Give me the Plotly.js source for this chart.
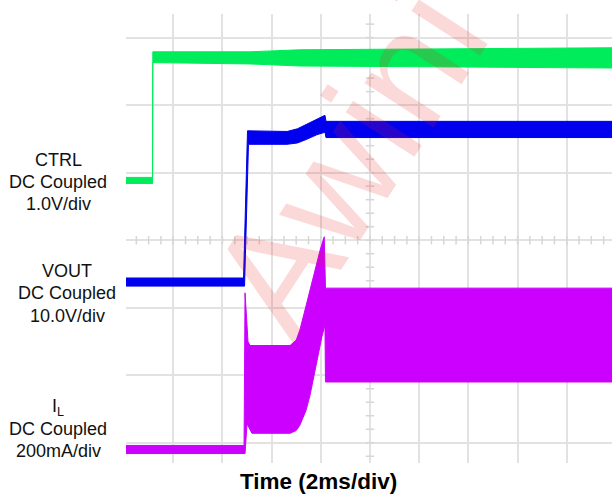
<!DOCTYPE html>
<html>
<head>
<meta charset="utf-8">
<script src="https://cdn.plot.ly/plotly-3.0.1.min.js"></script>
<style>
  html, body { margin: 0; padding: 0; background: #ffffff; }
  #chart { width: 612px; height: 498px; }
</style>
</head>
<body>
<div id="chart"></div>
<script>
// Time in ms (2 ms/div), vertical values in screen divisions
const ctrlUpperT = [0.08, 1.16, 1.17, 5.12, 7.15, 19.84];
const ctrlUpper  = [0.93, 0.93, 2.79, 2.79, 2.82, 2.85];
const ctrlLowerT = [0.08, 1.16, 1.17, 5.12, 7.15, 19.84];
const ctrlLower  = [0.84, 0.84, 2.63, 2.61, 2.58, 2.55];

const voutUpperT = [0.08, 4.86, 5.02, 6.63, 7.05, 7.40, 7.83, 8.17, 8.21, 19.84];
const voutUpper  = [-0.56, -0.56, 1.62, 1.61, 1.65, 1.71, 1.78, 1.85, 1.76, 1.76];
const voutLowerT = [0.08, 4.90, 5.06, 6.63, 7.05, 7.40, 7.83, 8.17, 8.21, 19.84];
const voutLower  = [-0.68, -0.68, 1.42, 1.42, 1.44, 1.49, 1.56, 1.60, 1.52, 1.52];

const ilUpperT = [0.08, 4.88, 4.92, 5.04, 5.12, 6.75, 7.00, 7.15, 7.43, 7.68, 7.97, 8.14, 8.19, 19.84];
const ilUpper  = [-3.04, -3.04, -0.78, -1.50, -1.56, -1.56, -1.48, -1.33, -0.93, -0.55, -0.15, 0.05, -0.71, -0.71];
const ilLowerT = [0.08, 4.92, 5.00, 5.20, 6.75, 7.00, 7.15, 7.40, 7.56, 7.83, 8.05, 8.17, 8.19, 19.84];
const ilLower  = [-3.16, -3.16, -2.72, -2.86, -2.86, -2.82, -2.74, -2.52, -2.30, -1.80, -1.42, -1.26, -2.10, -2.10];

const ctrlLabels = ["CTRL", "DC Coupled", "1.0V/div"];
const voutLabels = ["VOUT", "DC Coupled", "10.0V/div"];
const ilLabels   = ["I<sub>L</sub>", "DC Coupled", "200mA/div"];
const xTitle = "Time (2ms/div)";
const watermark = "Awini";

function band(ut, u, lt, l, color) {
  const x = ut.concat(lt.slice().reverse());
  const y = u.concat(l.slice().reverse());
  return {
    x: x, y: y, type: 'scatter', mode: 'lines', fill: 'toself',
    fillcolor: color, line: {color: color, width: 1},
    hoverinfo: 'skip', showlegend: false
  };
}

// graticule minor ticks on centre lines
const hx = [], hy = [];
for (let k = 1; k < 40; k++) { hx.push(k * 0.5); hy.push(0); }
const vx = [], vy = [];
for (let k = -16; k <= 16; k++) { vx.push(10); vy.push(k * 0.2); }

const tickColor = '#d6d6d6';
const traces = [
  {x: hx, y: hy, type: 'scatter', mode: 'markers', hoverinfo: 'skip', showlegend: false,
   marker: {symbol: 'line-ns', size: 6, line: {color: tickColor, width: 1.5}}},
  {x: vx, y: vy, type: 'scatter', mode: 'markers', hoverinfo: 'skip', showlegend: false,
   marker: {symbol: 'line-ew', size: 6, line: {color: tickColor, width: 1.5}}},
  band(ctrlUpperT, ctrlUpper, ctrlLowerT, ctrlLower, '#00ec5a'),
  band(voutUpperT, voutUpper, voutLowerT, voutLower, '#0000ee'),
  band(ilUpperT, ilUpper, ilLowerT, ilLower, '#cc00ff')
];

// plot area in pixels: x 126..612, y 14..463
const L = 126, R = 612, T = 14, B = 463;
function px(x) { return (x - L) / (R - L); }
function py(y) { return (B - y) / (B - T); }

const font = 'Liberation Sans, Arial, sans-serif';
const annotations = [];
function addLabels(lines, cx, ys) {
  lines.forEach((t, i) => annotations.push({
    text: t, xref: 'paper', yref: 'paper', x: px(cx), y: py(ys[i]),
    xanchor: 'center', yanchor: 'middle', showarrow: false,
    font: {family: font, size: 18, color: '#111111'}
  }));
}
addLabels(ctrlLabels, 58, [160, 182, 204]);
addLabels(voutLabels, 67, [271, 293, 316]);
addLabels(ilLabels, 58, [407, 429, 451]);

annotations.push({
  text: '<b>' + xTitle + '</b>', xref: 'paper', yref: 'paper',
  x: px(318), y: py(481), xanchor: 'center', yanchor: 'middle', showarrow: false,
  font: {family: font, size: 22.5, color: '#000000'}
});
annotations.push({
  text: watermark, xref: 'paper', yref: 'paper',
  x: px(348), y: py(160), xanchor: 'center', yanchor: 'middle', showarrow: false,
  textangle: -57,
  font: {family: font, size: 155, color: 'rgba(240,30,30,0.17)'}
});

const layout = {
  width: 612, height: 498,
  margin: {l: L, r: 612 - R, t: T, b: 498 - B, pad: 0},
  paper_bgcolor: '#ffffff', plot_bgcolor: '#ffffff',
  showlegend: false,
  xaxis: {range: [0.08, 19.84], tick0: 0, dtick: 2, showgrid: true, gridcolor: '#e2e2e2', gridwidth: 2,
          zeroline: false, showline: false, showticklabels: false, ticks: '', fixedrange: true},
  yaxis: {range: [-3.30, 3.35], tick0: 0, dtick: 1, showgrid: true, gridcolor: '#e2e2e2', gridwidth: 2,
          zeroline: false, showline: false, showticklabels: false, ticks: '', fixedrange: true},
  annotations: annotations
};

Plotly.newPlot('chart', traces, layout, {staticPlot: true, displayModeBar: false});
</script>
</body>
</html>
